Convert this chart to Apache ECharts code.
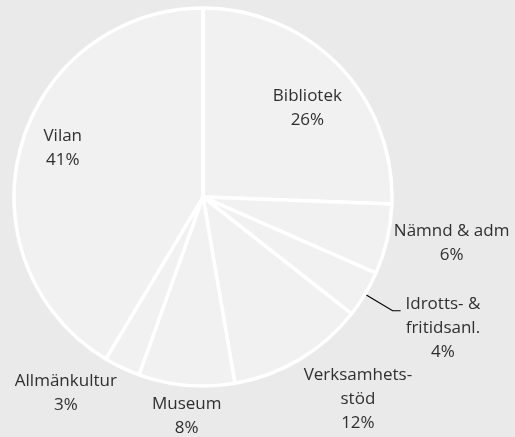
<!DOCTYPE html>
<html>
<head>
<meta charset="utf-8">
<title>Fördelning</title>
<script src="https://cdn.jsdelivr.net/npm/echarts@6/dist/echarts.min.js"></script>
<style>
  html, body { margin: 0; padding: 0; background: #eaeaea; }
  #chart { width: 515px; height: 437px; }
</style>
</head>
<body>
<div id="chart"></div>
<script>
// kategorier (medurs från klockan 12)
var categories = ["Bibliotek", "Nämnd & adm", "Idrotts- &\nfritidsanl.", "Verksamhets-\nstöd", "Museum", "Allmänkultur", "Vilan"];
// andelar i procent
var shares = [25.6, 6, 4, 11.7, 8.2, 3.1, 41.4];
// etikettplacering: [andel av radien, dx, dy]
var labelPlace = [
  [0.73, 5, 7],
  [1.35, 0, -11],
  [1.4, 13, -5],
  [1.25, 34, -1],
  [1.16, 3, 1],
  [1.15, -44, 0],
  [0.77, 0, -10]
];
// bara Idrotts har en hänvisningslinje
var withLine = [false, false, true, false, false, false, false];

var cx = 203, cy = 197, R = 189;

var total = shares.reduce(function (a, b) { return a + b; }, 0);
var midAngles = [];
var acc = 0;
shares.forEach(function (v) {
  midAngles.push((acc + v / 2) / total * Math.PI * 2);
  acc += v;
});

var data = categories.map(function (name, i) {
  return {
    name: name,
    value: shares[i],
    labelLine: { show: withLine[i] }
  };
});

var myChart = echarts.init(document.getElementById("chart"));
myChart.setOption({
  backgroundColor: "#eaeaea",
  animation: false,
  series: [
    {
      type: "pie",
      center: [cx, cy],
      radius: R,
      startAngle: 90,
      clockwise: true,
      avoidLabelOverlap: false,
      percentPrecision: 0,
      data: data,
      itemStyle: {
        color: "#f1f1f1",
        borderColor: "#ffffff",
        borderWidth: 3.5
      },
      label: {
        show: true,
        position: "outside",
        formatter: "{b}\n{d}%",
        fontFamily: "Open Sans",
        fontSize: 17,
        lineHeight: 24,
        color: "#2f2f2f",
        align: "center"
      },
      labelLine: {
        lineStyle: { color: "#000000", width: 1.2 }
      },
      labelLayout: function (params) {
        var i = params.dataIndex;
        var a = midAngles[i];
        var sx = Math.sin(a), sy = -Math.cos(a);
        var p = labelPlace[i];
        var out = {
          x: cx + sx * R * p[0] + p[1],
          y: cy + sy * R * p[0] + p[2],
          align: "center",
          verticalAlign: "middle"
        };
        if (withLine[i]) {
          var ex = cx + sx * R, ey = cy + sy * R;
          var bx = cx + sx * R * 1.17, by = cy + sy * R * 1.17;
          out.labelLinePoints = [[ex, ey], [bx, by], [bx + 8, by]];
        }
        return out;
      }
    }
  ]
});
</script>
</body>
</html>
